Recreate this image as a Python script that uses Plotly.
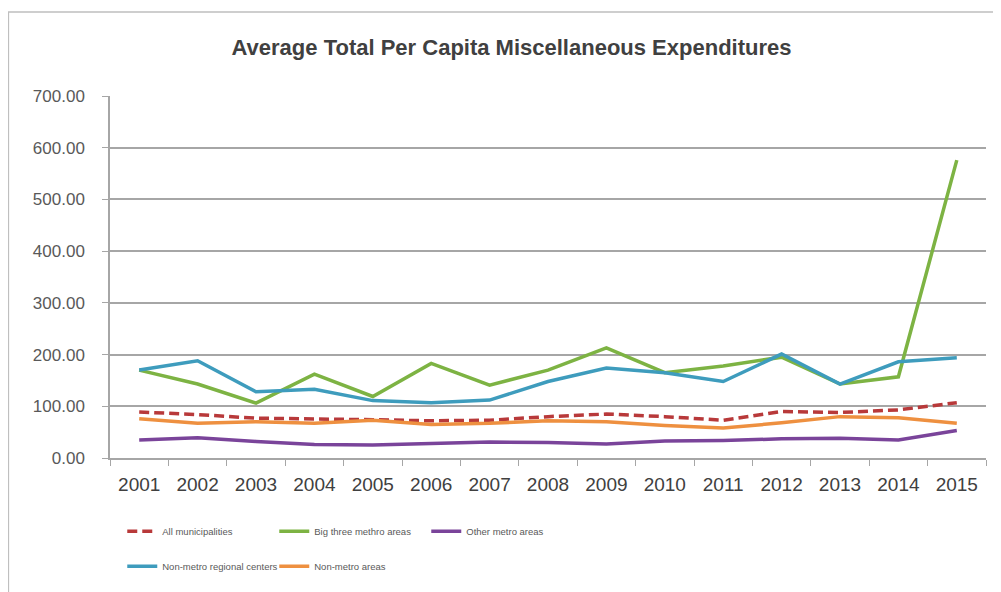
import plotly.graph_objects as go

years = [str(y) for y in range(2001, 2016)]

all_municipalities = [89, 84, 77, 76, 74, 72, 73, 80, 85, 80, 73, 90, 88, 93, 107]
big_three_metro = [170, 143, 106, 162, 119, 183, 141, 170, 213, 165, 178, 195, 143, 157, 576]
other_metro = [35, 39, 32, 26, 25, 28, 31, 30, 27, 33, 34, 37, 38, 35, 53]
non_metro_regional = [170, 188, 128, 133, 111, 107, 112, 148, 174, 165, 148, 201, 143, 186, 194]
non_metro_areas = [76, 67, 70, 67, 73, 65, 67, 72, 70, 63, 58, 68, 80, 78, 67]

y_ticks = [0, 100, 200, 300, 400, 500, 600, 700]

FONT = "Liberation Sans, Arial"

fig = go.Figure()

series = [
    ("All municipalities", all_municipalities, "#B8393A", "10px,5px", "legend"),
    ("Big three methro areas", big_three_metro, "#7DB343", "solid", "legend"),
    ("Other metro areas", other_metro, "#7A449A", "solid", "legend"),
    ("Non-metro regional centers", non_metro_regional, "#3E9CBD", "solid", "legend2"),
    ("Non-metro areas", non_metro_areas, "#EE9040", "solid", "legend2"),
]

for name, vals, color, dash, leg in series:
    fig.add_trace(go.Scatter(
        x=years, y=vals, name=name, mode="lines",
        line=dict(color=color, width=3.5, dash=dash),
        legend=leg,
    ))

# page body has an 8px margin, so the margins are shifted to compensate
fig.update_layout(
    width=1001, height=592,
    paper_bgcolor="white", plot_bgcolor="white",
    margin=dict(l=102, r=23, t=88, b=142, autoexpand=False),
    font=dict(family=FONT, color="#595959"),
    title=dict(
        text="<b>Average Total Per Capita Miscellaneous Expenditures</b>",
        x=0.503, xanchor="center", y=0.933, yanchor="middle",
        font=dict(family=FONT, size=22, color="#404040"),
    ),
    xaxis=dict(
        type="category", range=[-0.5, 14.5], tickson="boundaries",
        ticks="outside", ticklen=6, tickcolor="#a6a6a6",
        showline=True, linecolor="#a6a6a6", linewidth=1.5,
        showgrid=False, ticklabelstandoff=8,
        tickfont=dict(size=19, color="#404040"),
    ),
    yaxis=dict(
        range=[0, 700], tickvals=y_ticks,
        ticktext=[f"{v:.2f}" for v in y_ticks],
        ticks="outside", ticklen=6, tickcolor="#a6a6a6",
        showline=True, linecolor="#a6a6a6", linewidth=1.5,
        gridcolor="#a6a6a6", gridwidth=1.5, zeroline=False,
        ticklabelstandoff=14,
        tickfont=dict(size=17, color="#595959"),
    ),
    legend=dict(
        orientation="h", x=0.014, y=-0.162, xanchor="left", yanchor="top",
        entrywidth=107, font=dict(size=9.5, color="#595959"),
        bgcolor="rgba(0,0,0,0)",
    ),
    legend2=dict(
        orientation="h", x=0.014, y=-0.259, xanchor="left", yanchor="top",
        entrywidth=107, font=dict(size=9.5, color="#595959"),
        bgcolor="rgba(0,0,0,0)",
    ),
    shapes=[dict(
        type="rect", xref="paper", yref="paper",
        x0=-0.116, x1=1.03, y0=-0.45, y1=1.232,
        line=dict(color="#bfbfbf", width=1.5), fillcolor="rgba(0,0,0,0)",
        layer="below",
    )],
)

fig.write_html("out.html")
